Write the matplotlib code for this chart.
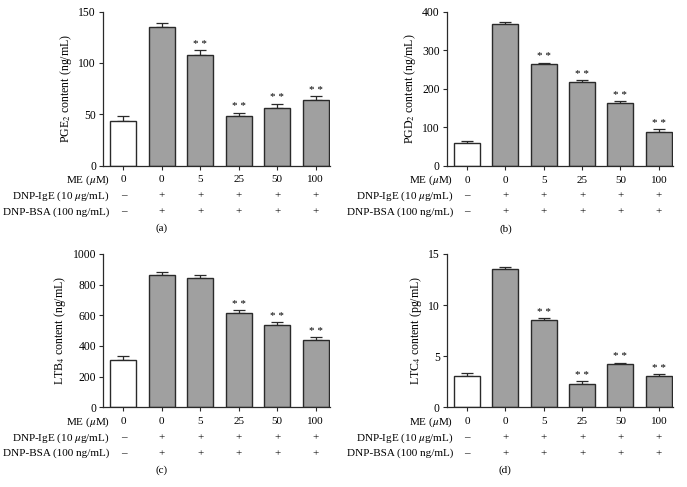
import numpy as np
import matplotlib
matplotlib.use("Agg")
import matplotlib.pyplot as plt

plt.rcParams['font.family'] = ['Liberation Serif', 'DejaVu Serif']
plt.rcParams['mathtext.fontset'] = 'stix'
plt.rcParams['font.size'] = 8

# data
me_doses = ['0', '0', '5', '25', '50', '100']
ige_signs = ['\u2013', '+', '+', '+', '+', '+']
bsa_signs = ['\u2013', '+', '+', '+', '+', '+']

pge2 = [43.5, 135.4, 107.5, 48.0, 55.8, 64.0]
pge2_err = [4.6, 3.2, 4.8, 3.6, 4.6, 3.5]
pge2_sig = [False, False, True, True, True, True]

pgd2 = [58, 368, 263, 216.5, 162, 88]
pgd2_err = [5, 5, 5, 6, 5, 7]
pgd2_sig = [False, False, True, True, True, True]

ltb4 = [306, 863, 845, 615, 537, 439]
ltb4_err = [27, 17, 16, 18, 17, 17]
ltb4_sig = [False, False, False, True, True, True]

ltc4 = [3.07, 13.53, 8.51, 2.28, 4.20, 3.07]
ltc4_err = [0.26, 0.20, 0.19, 0.26, 0.17, 0.16]
ltc4_sig = [False, False, True, True, True, True]

panels = [
    dict(vals=pge2, err=pge2_err, sig=pge2_sig, ymax=150, yticks=[0, 50, 100, 150],
         ylabel=r'PGE$_2$ content (ng/mL)', tag='(a)', box=(103, 11.7, 330, 165.5)),
    dict(vals=pgd2, err=pgd2_err, sig=pgd2_sig, ymax=400, yticks=[0, 100, 200, 300, 400],
         ylabel=r'PGD$_2$ content (ng/mL)', tag='(b)', box=(446.7, 11.7, 673, 165.7)),
    dict(vals=ltb4, err=ltb4_err, sig=ltb4_sig, ymax=1000, yticks=[0, 200, 400, 600, 800, 1000],
         ylabel=r'LTB$_4$ content (ng/mL)', tag='(c)', box=(103, 254, 330, 407.3)),
    dict(vals=ltc4, err=ltc4_err, sig=ltc4_sig, ymax=15, yticks=[0, 5, 10, 15],
         ylabel=r'LTC$_4$ content (pg/mL)', tag='(d)', box=(446.7, 254, 673, 407.3)),
]

W, H = 687, 487
fig = plt.figure(figsize=(W / 100, H / 100), dpi=100)
fig.patch.set_facecolor('white')

edge = '#2a2a2a'
x = np.arange(len(me_doses))

for p in panels:
    l, t, r, b = p['box']
    ax = fig.add_axes([l / W, 1 - b / H, (r - l) / W, (b - t) / H])
    colors = ['white'] + ['#a0a0a0'] * 5
    ax.bar(x, p['vals'], width=0.68, color=colors, edgecolor=edge, linewidth=1.0, zorder=2)
    ax.errorbar(x, p['vals'], yerr=[np.zeros(6), p['err']], fmt='none', ecolor=edge,
                elinewidth=0.9, capsize=4.2, capthick=0.9, zorder=1)
    for i, s in enumerate(p['sig']):
        if s:
            ax.annotate('* *', xy=(x[i], p['vals'][i] + p['err'][i]), xytext=(0, 1.5),
                        textcoords='offset pixels', ha='center', va='bottom', fontsize=8)
    ax.set_ylim(0, p['ymax'])
    ax.set_xlim(-0.53, 5.37)
    ax.set_yticks(p['yticks'])
    ax.set_xticks(x)
    ax.set_xticklabels([])
    ax.tick_params(axis='both', direction='out', length=3, width=0.8, color=edge, pad=2,
                   labelsize=8.4)
    for side in ['top', 'right']:
        ax.spines[side].set_visible(False)
    for side in ['left', 'bottom']:
        ax.spines[side].set_linewidth(0.9)
        ax.spines[side].set_color(edge)
    ax.set_ylabel(p['ylabel'], labelpad=3, fontsize=8.6)

    rows = [(r'ME ($\mu$M)', me_doses, -14.5),
            (r'DNP-IgE (10 $\mu$g/mL)', ige_signs, -30.5),
            ('DNP-BSA (100 ng/mL)', bsa_signs, -46.2)]
    for label, vals, dy in rows:
        ax.annotate(label, xy=(-0.36, 0), xycoords=('data', 'axes fraction'),
                    xytext=(0, dy), textcoords='offset pixels', ha='right', va='center',
                    annotation_clip=False)
        for i, v in enumerate(vals):
            ax.annotate(v, xy=(x[i], 0), xycoords=('data', 'axes fraction'),
                        xytext=(0, dy), textcoords='offset pixels', ha='center', va='center',
                        annotation_clip=False)
    ax.annotate(p['tag'], xy=(1.0, 0), xycoords=('data', 'axes fraction'),
                xytext=(0, -63), textcoords='offset pixels', ha='center', va='center',
                annotation_clip=False)

fig.savefig('out.png', dpi=100, facecolor='white')
